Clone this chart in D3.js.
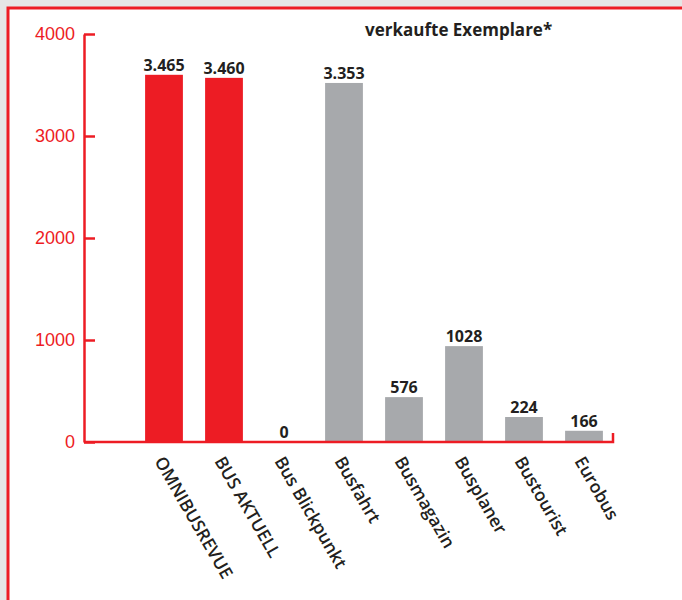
<!DOCTYPE html>
<html lang="de">
<head>
    <meta charset="UTF-8">
    <script src="https://d3js.org/d3.v7.min.js"></script>
    <title>verkaufte Exemplare</title>
    <style>
        body { margin: 0; background: #e6e6e6; }
        svg { display: block; }
    </style>
</head>
<body>
    <div id="chart"></div>
    <script>
        // Zeitschriften und Werte
        const categories = ["OMNIBUSREVUE", "BUS AKTUELL", "Bus Blickpunkt", "Busfahrt",
                            "Busmagazin", "Busplaner", "Bustourist", "Eurobus"];
        // Balkenhöhen, wie sie in der Grafik gezeichnet sind
        const values = [3600, 3570, 0, 3520, 440, 940, 245, 110];
        // die aufgedruckten Zahlen
        const valueLabels = ["3.465", "3.460", "0", "3.353", "576", "1028", "224", "166"];
        const groups = ["eigen", "eigen", "eigen", "fremd", "fremd", "fremd", "fremd", "fremd"];
        const yTicks = [0, 1000, 2000, 3000, 4000];
        const title = "verkaufte Exemplare*";

        const width = 682;
        const height = 600;
        const red = "#ed1c24";
        const grey = "#a7a9ac";
        const ink = "#231f20";

        const svg = d3.select("#chart")
            .append("svg")
            .attr("width", width)
            .attr("height", height);

        // weiße Fläche mit rotem Rahmen (nur oben und links sichtbar)
        svg.append("rect")
            .attr("x", 8)
            .attr("y", 8)
            .attr("width", width - 8)
            .attr("height", height - 8)
            .attr("fill", "#fff");

        svg.append("path")
            .attr("d", `M8,${height} L8,8 L${width},8`)
            .attr("fill", "none")
            .attr("stroke", red)
            .attr("stroke-width", 3);

        const x = d3.scaleBand()
            .domain(categories)
            .range([134, 614])
            .paddingInner(0.37)
            .paddingOuter(0.185);

        const y = d3.scaleLinear()
            .domain([0, 4000])
            .range([442, 34]);

        const color = d3.scaleOrdinal()
            .domain(["eigen", "fremd"])
            .range([red, grey]);

        const data = categories.map((c, i) => ({
            name: c, value: values[i], label: valueLabels[i], group: groups[i]
        }));

        // Balken
        svg.append("g")
            .selectAll("rect")
            .data(data)
            .join("rect")
            .attr("x", d => x(d.name))
            .attr("y", d => y(d.value))
            .attr("width", x.bandwidth())
            .attr("height", d => y(0) - y(d.value))
            .attr("fill", d => color(d.group));

        // Werte über den Balken
        svg.append("g")
            .selectAll("text")
            .data(data)
            .join("text")
            .attr("x", d => x(d.name) + x.bandwidth() / 2)
            .attr("y", d => y(d.value) - 4)
            .attr("text-anchor", "middle")
            .attr("font-family", "'Open Sans', sans-serif")
            .attr("font-weight", 700)
            .attr("font-size", 16)
            .attr("fill", ink)
            .text(d => d.label);

        // y-Achse
        const yAxis = svg.append("g")
            .attr("transform", "translate(84,0)")
            .call(d3.axisLeft(y)
                .tickValues(yTicks)
                .tickFormat(d3.format("d"))
                .tickSizeInner(-11)
                .tickSizeOuter(0)
                .tickPadding(9));

        yAxis.select(".domain").attr("stroke", red).attr("stroke-width", 2.5);
        yAxis.selectAll(".tick line").attr("stroke", red).attr("stroke-width", 2.5);
        yAxis.selectAll(".tick text")
            .attr("fill", red)
            .attr("font-family", "'Liberation Sans', Arial, sans-serif")
            .attr("font-size", 18);

        // x-Achse mit kleinem Endstrich
        const xEnd = x.range()[1] - 1;
        svg.append("path")
            .attr("d", `M84,${y(0)} L${xEnd},${y(0)} L${xEnd},${y(0) - 9}`)
            .attr("fill", "none")
            .attr("stroke", red)
            .attr("stroke-width", 2.5);

        // Beschriftung der Kategorien, schräg
        svg.append("g")
            .selectAll("text")
            .data(data)
            .join("text")
            .attr("transform", d => `translate(${x(d.name) + x.bandwidth() / 2 - 10},461) rotate(60)`)
            .attr("font-family", "'Open Sans', sans-serif")
            .attr("font-weight", 600)
            .attr("font-size", 17.5)
            .attr("fill", ink)
            .text(d => d.name);

        // Titel
        svg.append("text")
            .attr("x", 365)
            .attr("y", 36)
            .attr("font-family", "'Open Sans', sans-serif")
            .attr("font-weight", 700)
            .attr("font-size", 17)
            .attr("fill", ink)
            .text(title);
    </script>
</body>
</html>
